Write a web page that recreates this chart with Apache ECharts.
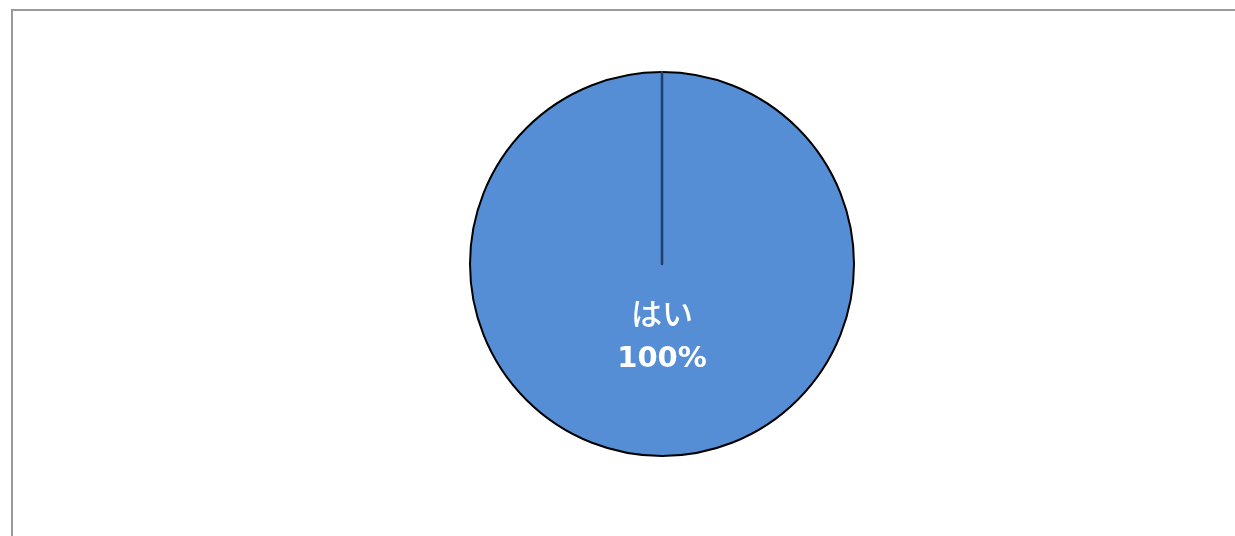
<!DOCTYPE html>
<html><head><meta charset="utf-8">
<script src="https://cdn.jsdelivr.net/npm/echarts@6/dist/echarts.min.js"></script>
<style>
html,body{margin:0;padding:0;background:#fff;overflow:hidden}
#frame{position:absolute;left:11px;top:9px;width:1300px;height:600px;border:2px solid #9a9a9a;box-sizing:border-box}
#chart{position:absolute;left:0;top:0;width:1235px;height:536px}
</style></head>
<body>
<div id="frame"></div>
<div id="chart"></div>
<script>
const categories = ['はい', 'いいえ'];
const values = [100, 0];
const percentLabels = ['100%', '0%'];

const chart = echarts.init(document.getElementById('chart'), null, {renderer: 'canvas'});
const data = categories.map((c, i) => ({
  name: c,
  value: values[i],
  itemStyle: i === 0
    ? {color: '#558ed5', borderColor: '#000000', borderWidth: 2}
    : {color: '#558ed5', borderColor: '#1f3f6a', borderWidth: 2.5},
  label: {show: i === 0}
}));
chart.setOption({
  backgroundColor: 'transparent',
  animation: false,
  series: [{
    type: 'pie',
    center: [662, 264],
    radius: [0, 192],
    startAngle: 90,
    clockwise: true,
    stillShowZeroSum: true,
    minAngle: 0,
    avoidLabelOverlap: false,
    data: data,
    label: {
      position: 'inside',
      offset: [0, -27],
      formatter: p => '{a|' + p.name + '}\n{b|' + percentLabels[p.dataIndex] + '}',
      rich: {
        a: {fontSize: 31, color: '#ffffff', fontFamily: 'Noto Sans CJK JP', fontWeight: 500, lineHeight: 46, align: 'center'},
        b: {fontSize: 29, color: '#ffffff', fontWeight: 'bold', fontFamily: 'DejaVu Sans', lineHeight: 46, align: 'center'}
      }
    },
    labelLine: {show: false},
    emphasis: {disabled: true}
  }]
});
</script>
</body></html>
